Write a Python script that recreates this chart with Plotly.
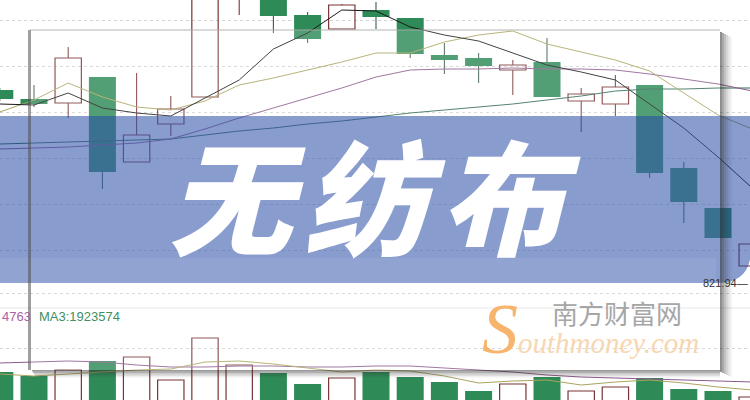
import plotly.graph_objects as go

W, H = 750, 400

# ---------------- data ----------------
idx = list(range(23))
opens  = [937.74, 932.34, 929.94, 945.54, 894.54, 917.34, 933.54, 994.74, 998.94, 982.74, 974.34, 985.74,
          980.94, 958.74, 956.94, 949.74, 954.54, 931.14, 929.34, 940.74, 890.94, 866.94, 832.14]
closes = [932.34, 929.34, 956.94, 888.54, 910.74, 926.34, 1006.74, 1015.74, 982.14, 968.34, 988.74, 981.54,
          959.34, 955.74, 952.14, 952.74, 933.54, 935.34, 939.54, 887.94, 870.54, 848.94, 845.34]
highs  = [938.94, 940.74, 963.54, 945.54, 947.94, 934.14, 1012.74, 1021.74, 1002.54, 984.54, 989.34, 990.54,
          980.94, 965.94, 959.94, 955.74, 968.94, 938.94, 946.74, 940.74, 894.54, 866.94, 847.74]
lows   = [931.14, 927.54, 920.94, 878.34, 894.54, 910.14, 933.54, 982.74, 971.94, 965.94, 974.34, 974.34,
          956.94, 947.34, 941.94, 934.74, 933.54, 912.54, 922.14, 884.94, 857.94, 848.94, 821.94]

ma5  = [929.34, 928.74, 935.94, 926.94, 923.94, 922.14, 932.94, 943.74, 962.34, 971.94, 985.74, 985.14,
        975.54, 970.74, 967.14, 959.94, 952.74, 948.54, 943.74, 929.34, 914.94, 897.54, 878.94]
ma10 = [924.54, 931.74, 941.94, 933.54, 927.54, 925.74, 931.14, 940.74, 944.94, 949.74, 954.54, 959.94,
        959.94, 966.54, 970.74, 973.14, 965.34, 960.54, 955.74, 949.14, 935.94, 922.74, 914.34]
ma20 = [902.34, 902.94, 903.54, 904.74, 905.94, 908.34, 914.34, 920.94, 926.94, 932.94, 938.94, 945.54,
        949.74, 950.34, 950.34, 950.94, 950.34, 950.34, 949.74, 947.34, 944.34, 941.34, 937.14]
ma60 = [905.34, 905.94, 906.54, 907.14, 907.74, 908.34, 910.74, 913.14, 914.94, 917.34, 919.14, 921.54,
        923.94, 925.74, 927.54, 929.34, 931.74, 934.14, 937.14, 938.34, 938.34, 938.94, 938.94]

volume = [2113000, 1982600, 2178300, 2471800, 2602200, 1852200, 3221800, 2341300, 2080400, 1721700, 1917400, 2113100,
          1950000, 1787000, 1493500, 1721800, 1949600, 1493400, 1623900, 1917300, 1558700, 1493500, 1297800]
vol_ma_a = [2406500, 2439100, 2471800, 2439100, 2341300, 2276100, 2276100, 2308700, 2308700, 2276100, 2276100, 2308700,
            2308700, 2243500, 2178300, 2113100, 2015200, 1950000, 1917400, 1884800, 1852200, 1819600, 1787000]
vol_ma3 = [2047800, 1982600, 2047800, 2113100, 2178300, 2210900, 2439100, 2471800, 2373900, 2243500, 2113100, 2178300,
           2145700, 1982600, 1754300, 1819600, 1852200, 1689100, 1787000, 1852200, 1754300, 1623900, 1526100]

title_text = "无纺布"
low_label = "821.94—"
vol_label_a = "4763"
vol_label_b = "MA3:1923574"
brand_cn = "南方财富网"
brand_en = "Southmoney.com"

GREEN = "#2e8a57"
RED = "#7a3434"

up = [i for i in idx if closes[i] >= opens[i]]
dn = [i for i in idx if closes[i] < opens[i]]

fig = go.Figure()

# candle bodies
fig.add_trace(go.Bar(x=dn, y=[opens[i] - closes[i] for i in dn], base=[closes[i] for i in dn],
                     width=0.79, marker=dict(color=GREEN, line=dict(width=0)), yaxis="y"))
fig.add_trace(go.Bar(x=up, y=[closes[i] - opens[i] for i in up], base=[opens[i] for i in up],
                     width=0.77, marker=dict(color="rgba(0,0,0,0)", line=dict(color=RED, width=1.2)), yaxis="y"))

def wicks(ids):
    xs, ys = [], []
    for i in ids:
        top = max(opens[i], closes[i]); bot = min(opens[i], closes[i])
        if highs[i] > top:
            xs += [i, i, None]; ys += [top, highs[i], None]
        if lows[i] < bot:
            xs += [i, i, None]; ys += [bot, lows[i], None]
    return xs, ys

wx, wy = wicks(dn)
fig.add_trace(go.Scatter(x=wx, y=wy, mode="lines", line=dict(color="#3d5e4c", width=1.1), yaxis="y"))
wx, wy = wicks(up)
fig.add_trace(go.Scatter(x=wx, y=wy, mode="lines", line=dict(color=RED, width=1.1), yaxis="y"))

# moving averages
fig.add_trace(go.Scatter(x=idx, y=ma60, mode="lines", line=dict(color="#2f6a50", width=1), yaxis="y"))
fig.add_trace(go.Scatter(x=idx, y=ma20, mode="lines", line=dict(color="#8c5a8c", width=1), yaxis="y"))
fig.add_trace(go.Scatter(x=idx, y=ma10, mode="lines", line=dict(color="#a9a45c", width=1), yaxis="y"))
fig.add_trace(go.Scatter(x=idx, y=ma5, mode="lines", line=dict(color="#1a1a1a", width=1), yaxis="y"))

# volume
fig.add_trace(go.Bar(x=dn, y=[volume[i] for i in dn], width=0.79,
                     marker=dict(color=GREEN, line=dict(width=0)), yaxis="y2"))
fig.add_trace(go.Bar(x=up, y=[volume[i] for i in up], width=0.77,
                     marker=dict(color="rgba(0,0,0,0)", line=dict(color=RED, width=1.2)), yaxis="y2"))
fig.add_trace(go.Scatter(x=idx, y=vol_ma_a, mode="lines", line=dict(color="#8c5a8c", width=1), yaxis="y2"))
fig.add_trace(go.Scatter(x=idx, y=vol_ma3, mode="lines", line=dict(color="#a9a45c", width=1), yaxis="y2"))

# ---------------- overlays (pixel helpers) ----------------
def X(p): return p / W
def Y(p): return 1 - p / H

shapes = []
def rect(x0, y0, x1, y1, color):
    shapes.append(dict(type="rect", xref="paper", yref="paper", x0=X(x0), x1=X(x1), y0=Y(y1), y1=Y(y0),
                       fillcolor=color, line=dict(width=0), layer="above"))

# translucent panel
rect(30, 30, 720, 370, "rgba(255,255,255,0.18)")
# blue band with rounded bottom-right corner
band = (f"M {X(-5)},{Y(116)} L {X(751)},{Y(116)} L {X(751)},{Y(249)} "
        f"Q {X(751)},{Y(283)} {X(717)},{Y(283)} L {X(-5)},{Y(283)} Z")
shapes.append(dict(type="path", xref="paper", yref="paper", path=band,
                   fillcolor="rgba(40,75,165,0.55)", line=dict(width=0), layer="above"))
rect(-5, 258, 716, 283, "rgba(255,255,255,0.07)")
# panel edges and shadow
rect(28, 30, 31, 370, "rgba(80,80,80,0.55)")
rect(30, 29, 720, 31, "rgba(170,170,170,0.45)")
for k, a in enumerate([0.55, 0.42, 0.3, 0.2, 0.12, 0.06]):
    rect(720 + 2 * k, 32 + k, 722 + 2 * k, 372 + k, f"rgba(50,50,50,{a})")
for k, a in enumerate([0.5, 0.38, 0.26, 0.16, 0.08]):
    rect(32 + k, 370 + 1.5 * k, 720, 371.5 + 1.5 * k, f"rgba(50,50,50,{a})")
# solid light rule in volume area
shapes.append(dict(type="line", xref="paper", yref="paper", x0=0, x1=1, y0=Y(308), y1=Y(308),
                   line=dict(color="#e4e4e4", width=1), layer="below"))

annotations = [
    dict(text="<span style='letter-spacing:12px'>" + title_text + "</span>", x=X(374), y=Y(192),
         xref="paper", yref="paper", showarrow=False, xanchor="center", yanchor="middle",
         font=dict(family="Noto Sans CJK SC", size=124, color="white", weight=900, style="italic")),
    dict(text=brand_cn, x=X(617), y=Y(333), xref="paper", yref="paper", showarrow=False,
         xanchor="center", yanchor="bottom",
         font=dict(family="Noto Sans CJK SC", size=26, color="#a6a6a6")),
    dict(text="<span style='font-size:72px;fill:#f6b46c'>S</span>" + brand_en[1:], x=X(701), y=Y(329),
         xref="paper", yref="paper", showarrow=False, xanchor="right", yanchor="middle",
         font=dict(family="Liberation Serif", size=29, color="#f7d6b2", style="italic")),
    dict(text=low_label, x=X(750), y=Y(283), xref="paper", yref="paper", showarrow=False,
         xanchor="right", yanchor="middle", font=dict(family="Liberation Sans", size=11, color="#333333")),
    dict(text=vol_label_a, x=X(0), y=Y(316), xref="paper", yref="paper", showarrow=False,
         xanchor="left", yanchor="middle", font=dict(family="Liberation Sans", size=13, color="#a862a8")),
    dict(text=vol_label_b, x=X(37), y=Y(316), xref="paper", yref="paper", showarrow=False,
         xanchor="left", yanchor="middle", font=dict(family="Liberation Sans", size=13, color="#3f8f5f")),
]

p0 = 991.74
grid_prices = [p0 - 0.6 * v for v in (20, 66, 112, 158, 204, 250)]
vb = 1.2e6
vs = 32609
fig.update_layout(
    width=W, height=H, margin=dict(l=0, r=0, t=0, b=0),
    paper_bgcolor="white", plot_bgcolor="rgba(0,0,0,0)",
    showlegend=False, barmode="overlay",
    xaxis=dict(range=[0.2 / 34.2, 0.2 / 34.2 + W / 34.2], showgrid=False, zeroline=False,
               showticklabels=False, ticks=""),
    yaxis=dict(domain=[0, 1], range=[p0 - 0.6 * H, p0], tickvals=grid_prices, showticklabels=False,
               showgrid=True, gridcolor="#d4d4d4", griddash="dot", zeroline=False),
    yaxis2=dict(domain=[0, 117 / H], range=[vb, vb + 117 * vs],
                tickvals=[vb + 107 * vs, vb + 52 * vs], showticklabels=False,
                showgrid=True, gridcolor="#d4d4d4", griddash="dot", zeroline=False, anchor="x"),
    shapes=shapes, annotations=annotations,
)

fig.write_html("out.html", config={"displayModeBar": False},
               post_script="document.body.style.margin='0';document.body.style.overflow='hidden';")
